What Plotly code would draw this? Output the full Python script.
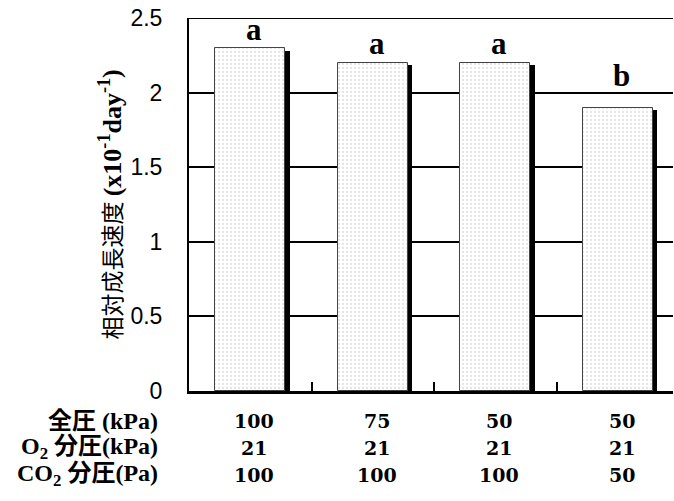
import plotly.graph_objects as go

# ---- data ----
total_pressure = ["100", "75", "50", "50"]
o2_partial = ["21", "21", "21", "21"]
co2_partial = ["100", "100", "100", "50"]
rgr = [2.3, 2.2, 2.2, 1.9]
letters = ["a", "a", "a", "b"]
row_labels = ["全圧 (kPa)", "O<sub>2</sub> 分圧(kPa)", "CO<sub>2</sub> 分圧(Pa)"]
y_ticks = [0, 0.5, 1, 1.5, 2, 2.5]
y_tick_text = ["0", "0.5", "1", "1.5", "2", "2.5"]
y_title = ("相対成長速度 <span style='font-family:Liberation Serif;font-size:26px'>"
           "<b>(x10<sup>-1</sup>day<sup>-1</sup>)</b></span>")

x = list(range(len(rgr)))
bar_w = 0.571
shadow_dx = 0.037
shadow_dy = 0.018

fig = go.Figure()
# shadow
fig.add_trace(go.Bar(
    x=x, y=[v - shadow_dy for v in rgr], width=bar_w, offset=-bar_w / 2 + shadow_dx,
    marker=dict(color="black", line=dict(width=0)), hoverinfo="skip", showlegend=False,
))
# main bars
fig.add_trace(go.Bar(
    x=x, y=rgr, width=bar_w, offset=-bar_w / 2,
    marker=dict(color="white",
                line=dict(color="#444444", width=1),
                pattern=dict(shape=".", size=4, solidity=0.25,
                             fgcolor="#c8c8c8", bgcolor="white")),
    showlegend=False,
))

annotations = []
letter_yshift = [-1, 0, 0, 13]
for i, (v, t) in enumerate(zip(rgr, letters)):
    annotations.append(dict(
        x=i, y=v, xref="x", yref="y", text=f"<b>{t}</b>", showarrow=False,
        xanchor="center", yanchor="bottom", xshift=4, yshift=letter_yshift[i],
        font=dict(family="Liberation Serif", size=31, color="black"),
    ))

value_font = dict(family="DejaVu Serif, Noto Sans CJK JP", size=19, color="black")
label_font = dict(family="Liberation Serif, Noto Sans CJK JP", size=24, color="black")
row_shift = [-30, -57, -84]
for r, row in enumerate([total_pressure, o2_partial, co2_partial]):
    for i, t in enumerate(row):
        annotations.append(dict(
            x=i, y=0, xref="x", yref="paper", text=f"<b>{t}</b>", showarrow=False,
            xanchor="center", yanchor="middle", xshift=4, yshift=row_shift[r],
            font=value_font,
        ))
    annotations.append(dict(
        x=0, y=0, xref="paper", yref="paper", text=f"<b>{row_labels[r]}</b>", showarrow=False,
        xanchor="right", yanchor="middle", xshift=-29, yshift=row_shift[r],
        font=label_font,
    ))

# y-axis title
annotations.append(dict(
    x=0, y=0.5, xref="paper", yref="paper", text=y_title, showarrow=False,
    textangle=-90, xanchor="center", yanchor="middle", xshift=-79,
    font=dict(family="Noto Sans CJK JP", size=23, color="black"),
))

fig.update_layout(
    width=674, height=501,
    margin=dict(l=189, r=1, t=18, b=110, autoexpand=False),
    paper_bgcolor="white", plot_bgcolor="white",
    barmode="overlay", bargap=0,
    annotations=annotations,
    shapes=[dict(type="line", xref="paper", yref="y", x0=0, x1=1,
                 y0=y_ticks[-1], y1=y_ticks[-1], line=dict(color="black", width=2),
                 layer="below")],
    xaxis=dict(
        range=[-0.5, 3.451], showgrid=False, zeroline=False,
        showline=True, linecolor="black", linewidth=3,
        tickmode="array", tickvals=[0.5, 1.5, 2.5], ticks="inside",
        ticklen=9, tickwidth=2, tickcolor="black", showticklabels=False,
    ),
    yaxis=dict(
        range=[0, 2.5], tickmode="array", tickvals=y_ticks, ticktext=y_tick_text,
        showgrid=True, gridcolor="black", gridwidth=2, zeroline=False,
        showline=True, linecolor="black", linewidth=2,
        ticks="outside", ticklen=20, tickcolor="rgba(0,0,0,0)",
        ticklabeloverflow="allow",
        tickfont=dict(family="Liberation Sans", size=23, color="black"),
    ),
)

fig.write_html("out.html", config={"displayModeBar": False},
               post_script="document.body.style.margin='0px';")
